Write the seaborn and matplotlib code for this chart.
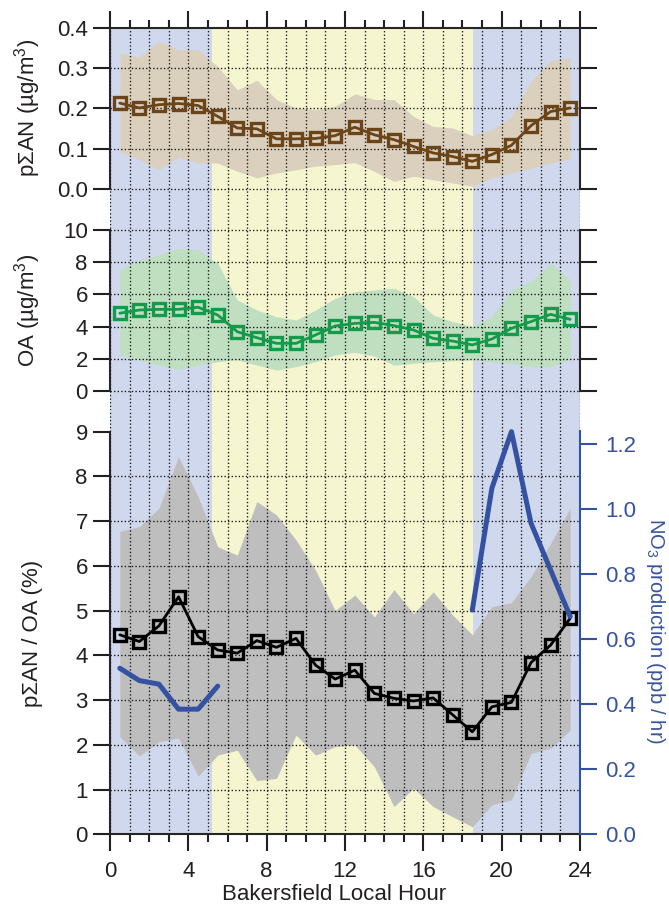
import numpy as np
import pandas as pd
import matplotlib
matplotlib.use("Agg")
import matplotlib.pyplot as plt
from matplotlib.ticker import MultipleLocator, FixedLocator
import seaborn as sns

# Hour-of-day bins (bin centres, local time)
hours = [0.5, 1.5, 2.5, 3.5, 4.5, 5.5, 6.5, 7.5, 8.5, 9.5, 10.5, 11.5,
         12.5, 13.5, 14.5, 15.5, 16.5, 17.5, 18.5, 19.5, 20.5, 21.5, 22.5, 23.5]

# Particle-phase total alkyl nitrates (ug/m3): mean and variability band
psan = [0.213, 0.201, 0.209, 0.212, 0.207, 0.180, 0.151, 0.149, 0.124, 0.124, 0.125, 0.132,
        0.153, 0.134, 0.122, 0.105, 0.089, 0.080, 0.068, 0.085, 0.108, 0.157, 0.192, 0.201]
psan_hi = [0.338, 0.328, 0.367, 0.346, 0.346, 0.304, 0.246, 0.270, 0.222, 0.201, 0.197, 0.205,
           0.236, 0.222, 0.222, 0.180, 0.155, 0.151, 0.132, 0.147, 0.180, 0.267, 0.319, 0.325]
psan_lo = [0.093, 0.072, 0.047, 0.079, 0.064, 0.064, 0.043, 0.027, 0.039, 0.047, 0.056, 0.060,
           0.065, 0.043, 0.018, 0.031, 0.022, 0.014, 0.006, 0.027, 0.039, 0.051, 0.064, 0.074]

# Organic aerosol (ug/m3)
oa = [4.83, 5.03, 5.07, 5.07, 5.20, 4.72, 3.68, 3.31, 2.96, 2.96, 3.48, 4.04,
      4.20, 4.26, 4.06, 3.79, 3.27, 3.10, 2.86, 3.23, 3.89, 4.31, 4.76, 4.45]
oa_hi = [7.52, 8.14, 8.45, 8.86, 8.76, 7.93, 5.65, 5.03, 4.61, 4.41, 5.03, 5.76,
         6.17, 6.27, 6.38, 5.86, 4.72, 4.31, 4.00, 4.61, 6.27, 6.79, 7.93, 6.89]
oa_lo = [2.24, 1.93, 1.61, 1.35, 1.61, 1.82, 1.93, 1.61, 1.30, 1.51, 1.82, 2.24,
         2.40, 2.17, 1.61, 1.72, 1.82, 1.88, 1.93, 1.82, 1.72, 1.51, 1.51, 2.00]

# pSAN / OA ratio (%)
ratio = [4.46, 4.31, 4.66, 5.31, 4.42, 4.12, 4.05, 4.33, 4.18, 4.38, 3.78, 3.47,
         3.67, 3.15, 3.04, 2.98, 3.05, 2.67, 2.29, 2.85, 2.95, 3.84, 4.23, 4.83]
ratio_hi = [6.77, 6.88, 7.29, 8.44, 7.55, 6.43, 6.24, 7.44, 7.14, 6.58, 5.90, 5.00,
            5.35, 4.86, 5.47, 4.93, 5.42, 4.90, 4.46, 5.09, 5.18, 5.76, 6.50, 7.29]
ratio_lo = [2.18, 1.75, 2.07, 2.15, 1.30, 1.77, 1.88, 1.20, 1.25, 2.22, 1.77, 1.96,
            2.00, 1.51, 0.62, 1.03, 0.62, 0.39, 0.17, 0.66, 0.77, 1.81, 1.92, 2.33]

# NO3 production rate (ppb/hr), night-time hours only
no3_hours_am = [0.5, 1.5, 2.5, 3.5, 4.5, 5.5]
no3_am = [0.511, 0.473, 0.462, 0.385, 0.385, 0.456]
no3_hours_pm = [18.5, 19.5, 20.5, 21.5, 22.5, 23.5]
no3_pm = [0.690, 1.065, 1.239, 0.957, 0.813, 0.670]

# Daylight period (local hour)
sunrise, sunset = 5.2, 18.55

x_ticks = [0, 4, 8, 12, 16, 20, 24]
psan_ticks = [0.0, 0.1, 0.2, 0.3, 0.4]
oa_ticks = [0, 2, 4, 6, 8, 10]
ratio_ticks = [0, 1, 2, 3, 4, 5, 6, 7, 8, 9]
no3_ticks = [0.0, 0.2, 0.4, 0.6, 0.8, 1.0, 1.2]

BROWN = "#6b4418"
GREEN = "#15994a"
BLUE = "#3552a2"
NIGHT = "#cfd8ec"
DAY = "#f5f5d0"
INK = "#231f20"

sns.set_style("ticks")
plt.rcParams.update({
    "font.family": ["Liberation Sans", "DejaVu Sans"],
    "font.size": 16,
    "mathtext.fontset": "custom",
    "mathtext.rm": "Liberation Sans",
    "mathtext.default": "regular",
    "axes.linewidth": 1.5,
    "text.color": INK,
    "axes.labelcolor": INK,
    "xtick.color": INK,
    "ytick.color": INK,
    "xtick.labelcolor": INK,
    "ytick.labelcolor": INK,
})

df = pd.DataFrame({"hour": hours, "psan": psan, "psan_hi": psan_hi, "psan_lo": psan_lo,
                   "oa": oa, "oa_hi": oa_hi, "oa_lo": oa_lo,
                   "ratio": ratio, "ratio_hi": ratio_hi, "ratio_lo": ratio_lo})
no3_df = pd.DataFrame({
    "hour": no3_hours_am + no3_hours_pm,
    "no3": no3_am + no3_pm,
    "segment": ["am"] * len(no3_am) + ["pm"] * len(no3_pm),
})

W, H = 669, 906
fig = plt.figure(figsize=(W / 100, H / 100), dpi=100)
fig.patch.set_facecolor("white")


def rect(top_px, bottom_px, left_px=110, right_px=580):
    return [left_px / W, 1 - bottom_px / H, (right_px - left_px) / W, (bottom_px - top_px) / H]


ax1 = fig.add_axes(rect(28, 210))
ax2 = fig.add_axes(rect(210, 410))
ax3 = fig.add_axes(rect(410, 834.3))

DOT = dict(ls=(0, (1, 1.7)), lw=0.95, color="#111111")
LABEL_X = (43 - 110) / 470


def base(ax, ylim, grid_levels):
    ax.set_facecolor("none")
    ax.set_xlim(0, 24)
    ax.set_ylim(*ylim)
    ax.axvspan(0, sunrise, color=NIGHT, lw=0, zorder=0)
    ax.axvspan(sunrise, sunset, color=DAY, lw=0, zorder=0)
    ax.axvspan(sunset, 24, color=NIGHT, lw=0, zorder=0)
    ax.xaxis.set_major_locator(FixedLocator(x_ticks))
    ax.xaxis.set_minor_locator(MultipleLocator(1))
    ax.set_axisbelow("line")
    ax.grid(axis="x", which="both", **DOT)
    ax.hlines(grid_levels, 0, 24, zorder=1.5, **DOT)
    ax.tick_params(axis="both", which="major", direction="out", length=12, width=1.5, pad=4)
    ax.tick_params(axis="x", which="minor", direction="out", length=6, width=1.5)
    ax.tick_params(axis="y", which="minor", left=False, right=False)


color_band = {"psan": "#dbd0bd", "oa": "#bfdfc0", "ratio": "#bebebe"}


def series(ax, col, color):
    ax.fill_between(df["hour"], df[col + "_lo"], df[col + "_hi"],
                    color=color_band[col], lw=0, zorder=1)
    sns.lineplot(data=df, x="hour", y=col, ax=ax, color=color, lw=2.0,
                 marker="s", markersize=8.5, markerfacecolor="none",
                 markeredgecolor=color, markeredgewidth=2.4, zorder=3)


# --- top panel: pSAN
base(ax1, (-0.0531, 0.4), [0.0, 0.1, 0.2, 0.3])
series(ax1, "psan", BROWN)
ax1.set_xlim(0, 24)
ax1.set_ylim(-0.0531, 0.4)
ax1.set_yticks(psan_ticks)
ax1.set_yticklabels([f"{v:.1f}" for v in psan_ticks])
ax1.yaxis.set_ticks_position("both")
ax1.tick_params(axis="y", labelright=False)
ax1.tick_params(axis="x", which="both", bottom=False, top=True, labelbottom=False, labeltop=False)
ax1.spines["bottom"].set_visible(False)
ax1.spines["left"].set_bounds(0, 0.4)
ax1.spines["right"].set_bounds(0, 0.4)
ax1.set_xlabel("")
ax1.set_ylabel("p\u03a3AN (\u00b5g/m$^3$)")
ax1.yaxis.set_label_coords(LABEL_X, 0.558)

# --- middle panel: OA
base(ax2, (-1.18, 11.24), oa_ticks)
series(ax2, "oa", GREEN)
ax2.set_xlim(0, 24)
ax2.set_ylim(-1.18, 11.24)
ax2.set_yticks(oa_ticks)
ax2.yaxis.set_ticks_position("both")
ax2.tick_params(axis="y", labelright=False)
ax2.tick_params(axis="x", which="both", bottom=False, top=False, labelbottom=False)
ax2.spines["bottom"].set_visible(False)
ax2.spines["top"].set_visible(False)
ax2.spines["left"].set_bounds(0, 10)
ax2.spines["right"].set_bounds(0, 10)
ax2.set_xlabel("")
ax2.set_ylabel("OA (\u00b5g/m$^3$)")
ax2.yaxis.set_label_coords(LABEL_X, 0.4975)

# --- bottom panel: pSAN/OA with NO3 production on the right
ratio_top = 424.3 / 44.73
base(ax3, (0, ratio_top), ratio_ticks[1:-1])
series(ax3, "ratio", "black")
ax3.set_xlim(0, 24)
ax3.set_ylim(0, ratio_top)
ax3.set_yticks(ratio_ticks)
ax3.tick_params(axis="x", which="major", pad=7)
ax3.tick_params(axis="x", which="both", top=False)
ax3.spines["top"].set_visible(False)
ax3.spines["right"].set_visible(False)
ax3.spines["left"].set_bounds(0, 9)
ax3.set_ylabel("p\u03a3AN / OA (%)")
ax3.yaxis.set_label_coords(LABEL_X, 0.474)
ax3.set_xlabel("Bakersfield Local Hour")
ax3.xaxis.set_label_coords((334.5 - 110) / 470, (834.3 - 884) / 424.3)

ax3r = ax3.twinx()
sns.lineplot(data=no3_df, x="hour", y="no3", units="segment", estimator=None,
             ax=ax3r, color=BLUE, lw=3.6, zorder=4)
ax3r.set_xlim(0, 24)
ax3r.set_ylim(0, 424.3 / 325)
ax3r.set_yticks(no3_ticks)
ax3r.set_yticklabels([f"{v:.1f}" for v in no3_ticks])
for side in ("left", "top", "bottom"):
    ax3r.spines[side].set_visible(False)
ax3r.spines["right"].set_color(BLUE)
ax3r.spines["right"].set_bounds(0, 1.24)
ax3r.tick_params(axis="y", direction="out", length=12, width=1.5, pad=6,
                 color=BLUE, labelcolor=BLUE)
ax3r.set_ylabel("NO$_3$ production (ppb / hr)", color=BLUE, rotation=270,
                va="center", fontsize=14.5)
ax3r.yaxis.set_label_coords((656 - 110) / 470, 0.479)

fig.savefig("out.png", dpi=100, facecolor="white")
